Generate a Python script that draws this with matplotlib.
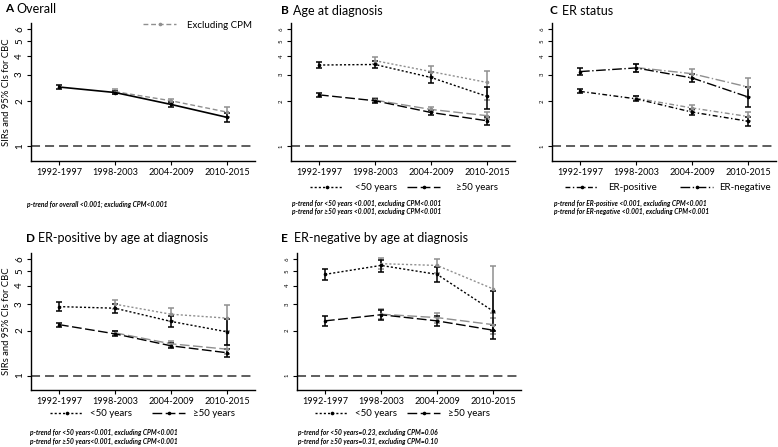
import matplotlib
matplotlib.use('Agg')
import matplotlib.pyplot as plt
import numpy as np
from matplotlib.lines import Line2D
from matplotlib.ticker import NullLocator, FixedLocator

plt.rcParams['font.family'] = ['Lato', 'DejaVu Sans']
plt.rcParams['lines.scale_dashes'] = False

nan = np.nan
periods = ['1992-1997', '1998-2003', '2004-2009', '2010-2015']
ytick_vals = [1, 2, 3, 4, 5, 6]

# Panel A: overall
a_all = [2.48, 2.28, 1.90, 1.56]
a_all_lo = [2.41, 2.22, 1.83, 1.46]
a_all_hi = [2.56, 2.35, 1.97, 1.67]
a_ex = [nan, 2.31, 2.01, 1.69]
a_ex_lo = [nan, 2.24, 1.94, 1.56]
a_ex_hi = [nan, 2.39, 2.08, 1.83]

# Panel B: age at diagnosis
b_u50 = [3.47, 3.50, 2.87, 2.15]
b_u50_lo = [3.30, 3.32, 2.65, 1.78]
b_u50_hi = [3.66, 3.70, 3.10, 2.48]
b_u50_ex = [nan, 3.71, 3.14, 2.66]
b_u50_ex_lo = [nan, 3.50, 2.87, 2.04]
b_u50_ex_hi = [nan, 3.92, 3.42, 3.17]
b_o50 = [2.20, 2.01, 1.68, 1.48]
b_o50_lo = [2.14, 1.95, 1.62, 1.39]
b_o50_hi = [2.27, 2.07, 1.75, 1.56]
b_o50_ex = [nan, 2.03, 1.76, 1.60]
b_o50_ex_lo = [nan, 1.97, 1.69, 1.51]
b_o50_ex_hi = [nan, 2.10, 1.84, 1.70]

# Panel C: ER status
c_pos = [2.32, 2.07, 1.69, 1.47]
c_pos_lo = [2.25, 2.00, 1.62, 1.37]
c_pos_hi = [2.40, 2.15, 1.77, 1.56]
c_pos_ex = [nan, 2.09, 1.80, 1.58]
c_pos_ex_lo = [nan, 2.02, 1.72, 1.48]
c_pos_ex_hi = [nan, 2.17, 1.88, 1.69]
c_neg = [3.14, 3.32, 2.85, 2.13]
c_neg_lo = [2.97, 3.13, 2.67, 1.82]
c_neg_hi = [3.31, 3.53, 3.04, 2.47]
c_neg_ex = [nan, 3.34, 3.04, 2.48]
c_neg_ex_lo = [nan, 3.14, 2.83, 2.14]
c_neg_ex_hi = [nan, 3.55, 3.27, 2.86]

# Panel D: ER-positive by age
d_u50 = [2.89, 2.82, 2.30, 1.96]
d_u50_lo = [2.70, 2.63, 2.10, 1.60]
d_u50_hi = [3.10, 3.02, 2.50, 2.40]
d_u50_ex = [nan, 3.00, 2.57, 2.42]
d_u50_ex_lo = [nan, 2.80, 2.33, 1.97]
d_u50_ex_hi = [nan, 3.22, 2.85, 2.96]
d_o50 = [2.19, 1.90, 1.58, 1.42]
d_o50_lo = [2.12, 1.84, 1.52, 1.34]
d_o50_hi = [2.26, 1.97, 1.65, 1.50]
d_o50_ex = [nan, 1.93, 1.63, 1.50]
d_o50_ex_lo = [nan, 1.86, 1.56, 1.40]
d_o50_ex_hi = [nan, 2.00, 1.70, 1.61]

# Panel E: ER-negative by age
e_u50 = [4.75, 5.45, 4.75, 2.70]
e_u50_lo = [4.35, 4.95, 4.20, 1.98]
e_u50_hi = [5.15, 5.95, 5.35, 3.70]
e_u50_ex = [nan, 5.60, 5.45, 3.80]
e_u50_ex_lo = [nan, 5.15, 4.85, 2.62]
e_u50_ex_hi = [nan, 6.10, 6.05, 5.40]
e_o50 = [2.32, 2.55, 2.32, 2.01]
e_o50_lo = [2.14, 2.36, 2.16, 1.75]
e_o50_hi = [2.52, 2.75, 2.50, 2.17]
e_o50_ex = [nan, 2.57, 2.44, 2.19]
e_o50_ex_lo = [nan, 2.38, 2.26, 1.90]
e_o50_ex_hi = [nan, 2.77, 2.63, 2.42]

W, H = 778, 447
fig = plt.figure(figsize=(W / 100, H / 100), dpi=100)

GRAY = '#8f8f8f'
DOT = (0, (1.5, 1.5))
LONG = (0, (7, 2.5))
DASH = (0, (3.5, 2))
DASHDOT = (0, (3.5, 1.8, 1, 1.8))
LONGDASHDOT = (0, (7, 1.8, 1, 1.8))
LEG_FS = 7
EM_PX = LEG_FS * 100 / 72.0


def make_ax(left, top, bottom, big_labels):
    ax = fig.add_axes([left / W, 1 - bottom / H, 224 / W, (bottom - top) / H])
    ax.set_yscale('log')
    ax.set_ylim(0.8, 6.6)
    ax.set_xlim(-0.5, 3.5)
    ax.yaxis.set_major_locator(FixedLocator(ytick_vals))
    ax.yaxis.set_minor_locator(NullLocator())
    ax.set_yticklabels([str(v) for v in ytick_vals], rotation=90, va='center',
                       fontsize=7 if big_labels else 4.3)
    ax.set_xticks(range(len(periods)))
    ax.set_xticklabels(periods, fontsize=6.6)
    ax.tick_params(axis='both', length=3, width=0.8, pad=2, direction='out')
    for s in ['top', 'right']:
        ax.spines[s].set_visible(False)
    for s in ['left', 'bottom']:
        ax.spines[s].set_linewidth(1.0)
    ax.axhline(1, color='#333333', lw=1.1, linestyle=(0, (6.5, 3.6)))
    if big_labels:
        ax.set_ylabel('SIRs and 95% CIs for CBC', fontsize=6.8, labelpad=3)
    return ax


def series(ax, est, lo, hi, color, ls, lw=1.0):
    x = np.arange(len(periods))
    est = np.array(est); lo = np.array(lo); hi = np.array(hi)
    m = np.isfinite(est)
    ax.errorbar(x[m], est[m], yerr=[est[m] - lo[m], hi[m] - est[m]], fmt='none',
                ecolor=color, elinewidth=1.1, capsize=2.4, capthick=1.1, zorder=3)
    ax.plot(x[m], est[m], color=color, lw=lw, linestyle=ls, marker='o', ms=1.6,
            zorder=4)


def title(xl, xt, y, letter, text):
    fig.text(xl / W, 1 - y / H, letter, fontsize=8.5, fontweight='bold', va='center')
    fig.text(xt / W, 1 - y / H, text, fontsize=9, va='center')


def ptext(x, y, s):
    fig.text(x / W, 1 - y / H, s, fontsize=4.8, style='italic', fontweight='bold',
             va='center')


def entry(x, y, label, style, pad_px, color='k', hlen_px=33):
    h = Line2D([], [], color=color, lw=1, linestyle=style, marker='o', ms=1.6)
    fig.legend([h], [label], loc='center left',
               bbox_to_anchor=(x / W, 1 - y / H),
               bbox_transform=fig.transFigure, frameon=False, fontsize=LEG_FS,
               handlelength=hlen_px / EM_PX, handletextpad=pad_px / EM_PX,
               borderpad=0, borderaxespad=0)


# A
axA = make_ax(31, 23, 161, True)
series(axA, a_ex, a_ex_lo, a_ex_hi, GRAY, DASH)
series(axA, a_all, a_all_lo, a_all_hi, 'k', '-', 1.2)
entry(143, 25, 'Excluding CPM', DASH, 11, color=GRAY)
title(5, 16, 9, 'A', 'Overall')
ptext(27, 204, 'p-trend for overall <0.001; excluding CPM<0.001')

# B
axB = make_ax(291, 23, 161, False)
series(axB, b_u50_ex, b_u50_ex_lo, b_u50_ex_hi, GRAY, DOT)
series(axB, b_o50_ex, b_o50_ex_lo, b_o50_ex_hi, GRAY, LONG)
series(axB, b_u50, b_u50_lo, b_u50_hi, 'k', DOT)
series(axB, b_o50, b_o50_lo, b_o50_hi, 'k', LONG)
entry(310, 188, '<50 years', DOT, 12)
entry(407, 188, '\u226550 years', LONG, 16)
title(281, 293, 11, 'B', 'Age at diagnosis')
ptext(292, 203, 'p-trend for <50 years <0.001, excluding CPM<0.001')
ptext(292, 211, 'p-trend for \u226550 years <0.001, excluding CPM<0.001')

# C
axC = make_ax(552, 23, 161, False)
series(axC, c_pos_ex, c_pos_ex_lo, c_pos_ex_hi, GRAY, DASHDOT)
series(axC, c_neg_ex, c_neg_ex_lo, c_neg_ex_hi, GRAY, LONGDASHDOT)
series(axC, c_pos, c_pos_lo, c_pos_hi, 'k', DASHDOT)
series(axC, c_neg, c_neg_lo, c_neg_hi, 'k', LONGDASHDOT)
entry(565, 188, 'ER-positive', DASHDOT, 10)
entry(680, 188, 'ER-negative', LONGDASHDOT, 6)
title(550, 562, 11, 'C', 'ER status')
ptext(554, 203, 'p-trend for ER-positive <0.001, excluding CPM<0.001')
ptext(554, 211, 'p-trend for ER-negative <0.001, excluding CPM<0.001')

# D
axD = make_ax(31, 253, 390, True)
series(axD, d_u50_ex, d_u50_ex_lo, d_u50_ex_hi, GRAY, DOT)
series(axD, d_o50_ex, d_o50_ex_lo, d_o50_ex_hi, GRAY, LONG)
series(axD, d_u50, d_u50_lo, d_u50_hi, 'k', DOT)
series(axD, d_o50, d_o50_lo, d_o50_hi, 'k', LONG)
entry(50, 414, '<50 years', DOT, 7)
entry(152, 414, '\u226550 years', LONG, 8)
title(26, 38, 238, 'D', 'ER-positive by age at diagnosis')
ptext(30, 432, 'p-trend for <50 years<0.001, excluding CPM<0.001')
ptext(30, 441, 'p-trend for \u226550 years<0.001, excluding CPM<0.001')

# E
axE = make_ax(297, 253, 390, False)
series(axE, e_u50_ex, e_u50_ex_lo, e_u50_ex_hi, GRAY, DOT)
series(axE, e_o50_ex, e_o50_ex_lo, e_o50_ex_hi, GRAY, LONG)
series(axE, e_u50, e_u50_lo, e_u50_hi, 'k', DOT)
series(axE, e_o50, e_o50_lo, e_o50_hi, 'k', LONG)
entry(315, 414, '<50 years', DOT, 7)
entry(407, 414, '\u226550 years', LONG, 8)
title(281, 294, 238, 'E', 'ER-negative by age at diagnosis')
ptext(298, 432, 'p-trend for <50 years=0.23, excluding CPM=0.06')
ptext(298, 441, 'p-trend for \u226550 years=0.31, excluding CPM=0.10')

fig.savefig('out.png', dpi=100)
